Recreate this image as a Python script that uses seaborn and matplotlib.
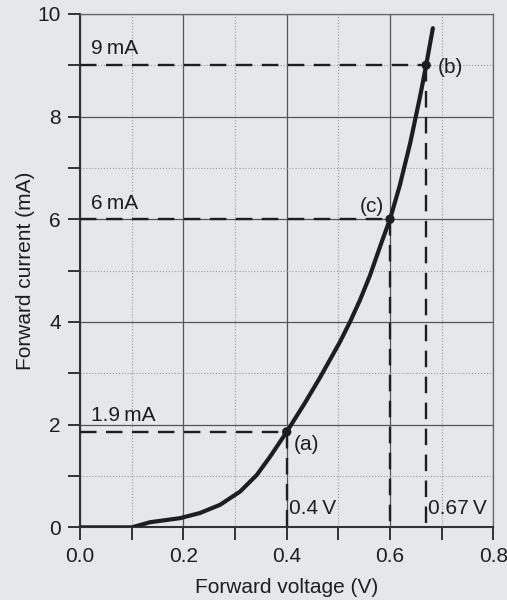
import numpy as np
import pandas as pd
import seaborn as sns
import matplotlib.pyplot as plt
from matplotlib.ticker import MultipleLocator

# diode forward characteristic
voltage = [0.0, 0.1, 0.135, 0.1935, 0.232, 0.271, 0.310, 0.342, 0.368,
           0.4, 0.435, 0.464, 0.503, 0.5225, 0.542, 0.561, 0.584,
           0.6, 0.619, 0.639, 0.658, 0.67, 0.683]
current = [0.0, 0.0, 0.10, 0.18, 0.28, 0.44, 0.70, 1.02, 1.38,
           1.86, 2.42, 2.91, 3.61, 4.0, 4.43, 4.9, 5.56,
           6.0, 6.66, 7.48, 8.38, 9.0, 9.72]

# marked operating points
point_names = ['(a)', '(b)', '(c)']
point_v = [0.4, 0.67, 0.6]
point_i = [1.86, 9.0, 6.0]
current_labels = ['1.9\u2009mA', '9\u2009mA', '6\u2009mA']
voltage_labels = ['0.4\u2009V', '0.67\u2009V', None]

bg = '#e6e7e9'
ink = '#1e1e1e'
sns.set_style('white')
plt.rcParams['font.family'] = ['Liberation Sans', 'DejaVu Sans']
plt.rcParams['font.size'] = 15

df = pd.DataFrame({'v': voltage, 'i': current})
pts = pd.DataFrame({'v': point_v, 'i': point_i, 'name': point_names})

fig = plt.figure(figsize = (5.07, 6.0), dpi = 100, facecolor = bg)
ax = fig.add_axes([0.158, 0.121, 0.815, 0.856])
ax.set_facecolor(bg)

ax.set_xlim(0, 0.8)
ax.set_ylim(0, 10)
ax.xaxis.set_major_locator(MultipleLocator(0.2))
ax.xaxis.set_minor_locator(MultipleLocator(0.1))
ax.yaxis.set_major_locator(MultipleLocator(2))
ax.yaxis.set_minor_locator(MultipleLocator(1))
ax.xaxis.set_major_formatter(lambda x, p: f'{x:.1f}')
ax.yaxis.set_major_formatter(lambda y, p: f'{y:.0f}')

ax.grid(which = 'major', color = '#555555', lw = 0.9, ls = '-')
ax.grid(which = 'minor', color = '#999999', lw = 0.8, ls = ':')
ax.set_axisbelow(True)

# dashed guides from the marked points to the axes
for v, i in zip(point_v, point_i):
    ax.plot([0, v], [i, i], color = ink, lw = 1.7, dashes = (7, 4), zorder = 3)
    ax.plot([v, v], [i, 0], color = ink, lw = 1.7, dashes = (7, 4), zorder = 3)

sns.lineplot(data = df, x = 'v', y = 'i', ax = ax, color = ink, lw = 3, zorder = 4)
sns.scatterplot(data = pts, x = 'v', y = 'i', ax = ax, color = ink, s = 45,
                edgecolor = 'none', zorder = 5)

for lab, i in zip(current_labels, point_i):
    ax.text(0.021, i + 0.13, lab, ha = 'left', va = 'bottom', color = ink)
for lab, v in zip(voltage_labels, point_v):
    if lab:
        ax.text(v + 0.004, 0.37, lab, ha = 'left', va = 'center', color = ink)

ax.text(0.413, 1.61, '(a)', ha = 'left', va = 'center', color = ink)
ax.text(0.692, 8.95, '(b)', ha = 'left', va = 'center', color = ink)
ax.text(0.588, 6.25, '(c)', ha = 'right', va = 'center', color = ink)

for side in ['left', 'bottom']:
    ax.spines[side].set_color('#333333')
    ax.spines[side].set_linewidth(1.5)
for side in ['top', 'right']:
    ax.spines[side].set_color('#666666')
    ax.spines[side].set_linewidth(0.9)

ax.tick_params(which = 'both', direction = 'out', length = 9, width = 1.4, color = '#333333',
               left = True, bottom = True, labelsize = 15, labelcolor = ink, pad = 5)
ax.tick_params(which = 'minor', labelleft = False, labelbottom = False)

ax.set_xlabel('Forward voltage (V)', fontsize = 15, color = ink, labelpad = 9)
ax.set_ylabel('Forward current (mA)', fontsize = 15, color = ink, labelpad = 2)

plt.savefig('out.png', dpi = 100, facecolor = bg)
